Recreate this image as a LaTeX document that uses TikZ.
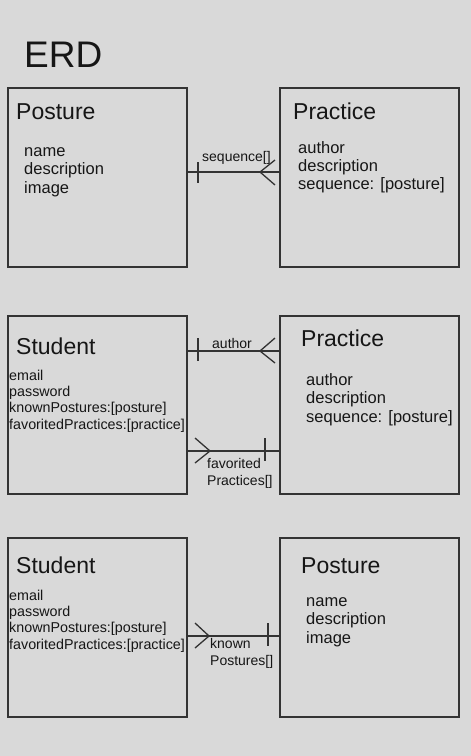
\documentclass[tikz,border=0pt]{standalone}
\usepackage{fontspec}
\setmainfont{Liberation Sans}
\definecolor{bg}{HTML}{D9D9D9}
\definecolor{ln}{HTML}{333333}
\definecolor{tx}{HTML}{161616}
\begin{document}
\begin{tikzpicture}[x=1pt,y=-1pt,
  box/.style={draw=ln,line width=1.3pt,inner sep=0pt,minimum width=179pt,minimum height=179pt},
  ttl/.style={anchor=base west,inner sep=0pt,text=tx,font=\fontsize{23}{23}\selectfont},
  att/.style={anchor=base west,inner sep=0pt,text=tx,font=\fontsize{16.5}{18}\selectfont},
  sat/.style={anchor=base west,inner sep=0pt,text=tx,font=\fontsize{14.3}{16}\selectfont},
  lbl/.style={anchor=base west,inner sep=0pt,text=tx,font=\fontsize{14}{16}\selectfont},
  rel/.style={draw=ln,line width=1.3pt}]
\fill[bg] (0,0) rectangle (471,756);
\useasboundingbox (0,0) rectangle (471,756);
\node[anchor=base west,inner sep=0pt,text=tx,font=\fontsize{37}{37}\selectfont] (erd) at (24,67) {ERD};
% row 1
\node[box] (posture1) at (97.5,177.5) {};
\node[box] (practice1) at (369.5,177.5) {};
\node[ttl] (t1) at (16,119) {Posture};
\node[att] (a11) at (24,156) {name};
\node[att] (a12) at (24,174.5) {description};
\node[att] (a13) at (24,193) {image};
\node[ttl] (t2) at (293,119) {Practice};
\node[att] (a21) at (298,153) {author};
\node[att] (a22) at (298,171) {description};
\node[att] (a23) at (298,189) {sequence: [posture]};
\coordinate (c1) at (260,172);
\draw[rel] (posture1.east |- c1) -- (practice1.west |- c1);
\draw[rel] (198,162) -- (198,183);
\draw[rel] (275,160) -- (c1) -- (275,185);
\node[lbl] (l1) at (202,161) {sequence[]};
% row 2
\node[box,minimum height=178pt] (student2) at (97.5,405) {};
\node[box,minimum height=178pt] (practice2) at (369.5,405) {};
\node[ttl] (t3) at (16,354) {Student};
\node[sat] (s21) at (9,380) {email};
\node[sat] (s22) at (9,396.3) {password};
\node[sat] (s23) at (9,412.6) {knownPostures:[posture]};
\node[sat] (s24) at (9,429) {favoritedPractices:[practice]};
\node[ttl] (t4) at (301,346) {Practice};
\node[att] (p21) at (306,385) {author};
\node[att] (p22) at (306,403.5) {description};
\node[att] (p23) at (306,422) {sequence: [posture]};
\coordinate (c2) at (260,351);
\draw[rel] (student2.east |- c2) -- (practice2.west |- c2);
\draw[rel] (198,338) -- (198,361);
\draw[rel] (275,338) -- (c2) -- (275,363);
\node[lbl] (l2) at (212,348) {author};
\coordinate (c3) at (210,451);
\draw[rel] (student2.east |- c3) -- (practice2.west |- c3);
\draw[rel] (195,438) -- (c3) -- (195,463);
\draw[rel] (265,438) -- (265,461);
\node[lbl] (l3) at (207,468) {favorited};
\node[lbl] (l4) at (207,485) {Practices[]};
% row 3
\node[box] (student3) at (97.5,627.5) {};
\node[box] (posture3) at (369.5,627.5) {};
\node[ttl] (t5) at (16,573) {Student};
\node[sat] (s31) at (9,600) {email};
\node[sat] (s32) at (9,616.3) {password};
\node[sat] (s33) at (9,632.6) {knownPostures:[posture]};
\node[sat] (s34) at (9,649) {favoritedPractices:[practice]};
\node[ttl] (t6) at (301,573) {Posture};
\node[att] (q31) at (306,606) {name};
\node[att] (q32) at (306,624.5) {description};
\node[att] (q33) at (306,643) {image};
\coordinate (c4) at (209,636);
\draw[rel] (student3.east |- c4) -- (posture3.west |- c4);
\draw[rel] (195,623) -- (c4) -- (195,648);
\draw[rel] (268,623) -- (268,646);
\node[lbl] (l5) at (210,648) {known};
\node[lbl] (l6) at (210,665) {Postures[]};
\end{tikzpicture}
\end{document}
